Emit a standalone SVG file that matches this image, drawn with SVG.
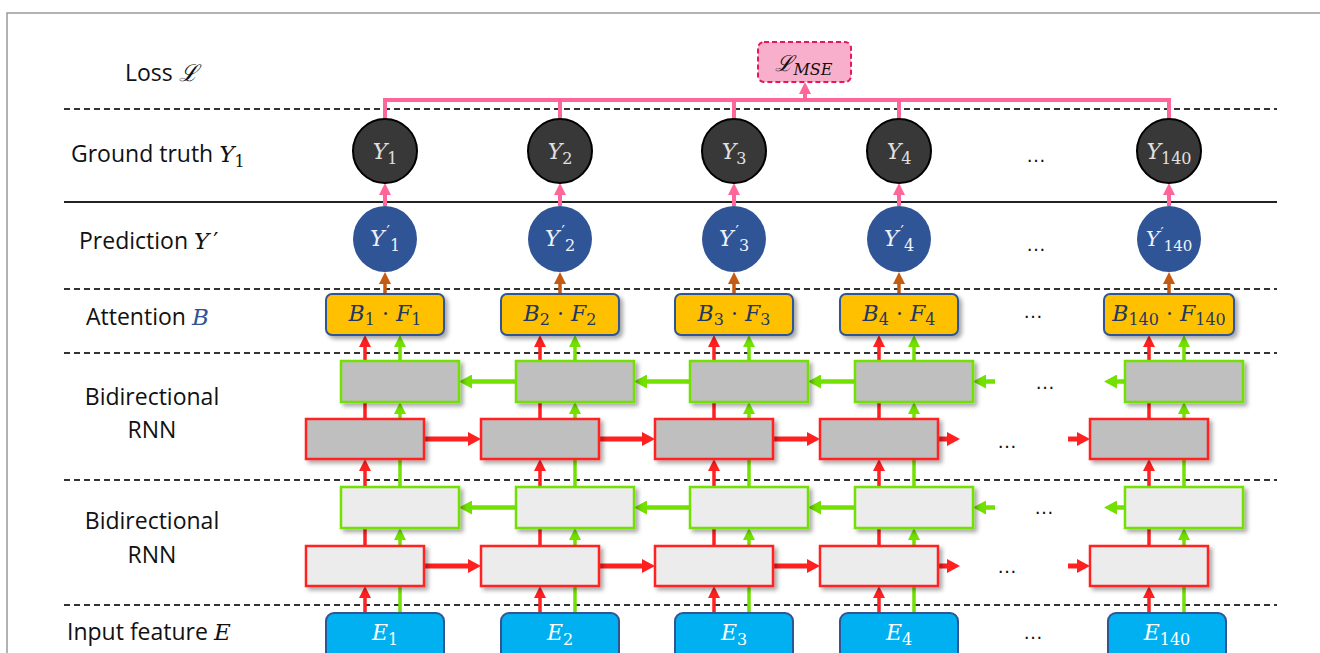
<svg xmlns="http://www.w3.org/2000/svg" width="1320" height="653" viewBox="0 0 1320 653">
<style>
.lbl{font-family:"Open Sans","Liberation Sans",Arial,sans-serif;font-size:23px;fill:#111}
.m{font-family:"DejaVu Serif","Liberation Serif",serif;font-style:italic}
.sub{font-family:"DejaVu Serif","Liberation Serif",serif;font-style:normal}
.pm{font-family:"DejaVu Sans","Liberation Sans",sans-serif;font-style:normal}
.dash{stroke:#333;stroke-width:2;stroke-dasharray:6 4;fill:none}
.gt{fill:#383838;stroke:#000;stroke-width:2}
.pr{fill:#2f5597}
.att{fill:#ffc000;stroke:#2f5597;stroke-width:2}
.inp{fill:#00b0f0;stroke:#2f5597;stroke-width:2}
.gd{fill:#bfbfbf;stroke:#72e000;stroke-width:2.5}
.rd{fill:#bfbfbf;stroke:#ff2020;stroke-width:2.5}
.gl{fill:#ececec;stroke:#72e000;stroke-width:2.5}
.rl{fill:#ececec;stroke:#ff2020;stroke-width:2.5}
.r{stroke:#ff2020;stroke-width:3.5;fill:none}
.g{stroke:#72e000;stroke-width:3.5;fill:none}
.rh{stroke:#ff2020;stroke-width:5;fill:none}
.gh{stroke:#72e000;stroke-width:4.5;fill:none}
.pk{stroke:#ff6699;stroke-width:4;fill:none}
.br{stroke:#c55a11;stroke-width:3.5;fill:none}
.dots{font-family:"Liberation Sans",Arial,sans-serif;font-size:20px;fill:#111;text-anchor:middle}
.ct{text-anchor:middle}
</style>
<defs>
<filter id="sh" x="-10%" y="-10%" width="130%" height="140%"><feDropShadow dx="3" dy="3" stdDeviation="2" flood-color="#000" flood-opacity="0.35"/></filter>
<marker id="mr" viewBox="0 0 12 12" refX="4" refY="6" markerWidth="12" markerHeight="12" markerUnits="userSpaceOnUse" orient="auto"><path d="M0,0 L12,6 L0,12 z" fill="#ff2020"/></marker>
<marker id="mg" viewBox="0 0 12 12" refX="4" refY="6" markerWidth="12" markerHeight="12" markerUnits="userSpaceOnUse" orient="auto"><path d="M0,0 L12,6 L0,12 z" fill="#72e000"/></marker>
<marker id="mrh" viewBox="0 0 13 14" refX="5" refY="7" markerWidth="13" markerHeight="14" markerUnits="userSpaceOnUse" orient="auto"><path d="M0,0 L13,7 L0,14 z" fill="#ff2020"/></marker>
<marker id="mgh" viewBox="0 0 13 14" refX="5" refY="7" markerWidth="13" markerHeight="14" markerUnits="userSpaceOnUse" orient="auto"><path d="M0,0 L13,7 L0,14 z" fill="#72e000"/></marker>
<marker id="mp" viewBox="0 0 12 12" refX="4" refY="6" markerWidth="12" markerHeight="12" markerUnits="userSpaceOnUse" orient="auto"><path d="M0,0 L12,6 L0,12 z" fill="#ff6699"/></marker>
<marker id="mb" viewBox="0 0 12 12" refX="4" refY="6" markerWidth="12" markerHeight="12" markerUnits="userSpaceOnUse" orient="auto"><path d="M0,0 L12,6 L0,12 z" fill="#c55a11"/></marker>
</defs>
<rect width="1320" height="653" fill="#fff"/>
<path d="M7,653 V13 H1320" fill="none" stroke="#999" stroke-width="1.5"/>

<g id="separators">
<line class="dash" x1="64" y1="109" x2="1277" y2="109"/>
<line x1="64" y1="202" x2="1277" y2="202" stroke="#222" stroke-width="1.8"/>
<line class="dash" x1="64" y1="289" x2="1277" y2="289"/>
<line class="dash" x1="64" y1="353" x2="1277" y2="353"/>
<line class="dash" x1="64" y1="480" x2="1277" y2="480"/>
<line class="dash" x1="64" y1="605" x2="1277" y2="605"/>
</g>

<g id="labels">
<text class="lbl" x="125" y="81">Loss <tspan class="m">ℒ</tspan></text>
<text class="lbl" x="71" y="162">Ground truth <tspan class="m">Y</tspan><tspan class="sub" font-size="16" dy="5">1</tspan></text>
<text class="lbl" x="79" y="249">Prediction <tspan class="m">Y</tspan><tspan class="pm" dx="4">′</tspan></text>
<text class="lbl" x="86" y="325">Attention <tspan class="m" fill="#2f5597">B</tspan></text>
<text class="lbl ct" x="152" y="405">Bidirectional</text>
<text class="lbl ct" x="152" y="438">RNN</text>
<text class="lbl ct" x="152" y="529">Bidirectional</text>
<text class="lbl ct" x="152" y="563">RNN</text>
<text class="lbl" x="67" y="640">Input feature <tspan class="m">E</tspan></text>
</g>

<g id="connectors">
<path class="pk" d="M385,119 V100 H1169 V119 M560,100 V119 M734,100 V119 M899,100 V119"/>
<path class="pk" d="M805,100 V90" marker-end="url(#mp)"/>
<path class="pk" d="M385,206 V191" marker-end="url(#mp)"/>
<path class="pk" d="M560,206 V191" marker-end="url(#mp)"/>
<path class="pk" d="M734,206 V191" marker-end="url(#mp)"/>
<path class="pk" d="M899,206 V191" marker-end="url(#mp)"/>
<path class="pk" d="M1169,206 V191" marker-end="url(#mp)"/>
<path class="br" d="M385,294 V280" marker-end="url(#mb)"/>
<path class="br" d="M560,294 V280" marker-end="url(#mb)"/>
<path class="br" d="M734,294 V280" marker-end="url(#mb)"/>
<path class="br" d="M899,294 V280" marker-end="url(#mb)"/>
<path class="br" d="M1169,294 V280" marker-end="url(#mb)"/>
<path class="r" d="M365,613 V594" marker-end="url(#mr)"/>
<path class="r" d="M365,546 V467" marker-end="url(#mr)"/>
<path class="r" d="M365,419 V343" marker-end="url(#mr)"/>
<path class="r" d="M540,613 V594" marker-end="url(#mr)"/>
<path class="r" d="M540,546 V467" marker-end="url(#mr)"/>
<path class="r" d="M540,419 V343" marker-end="url(#mr)"/>
<path class="r" d="M714,613 V594" marker-end="url(#mr)"/>
<path class="r" d="M714,546 V467" marker-end="url(#mr)"/>
<path class="r" d="M714,419 V343" marker-end="url(#mr)"/>
<path class="r" d="M879,613 V594" marker-end="url(#mr)"/>
<path class="r" d="M879,546 V467" marker-end="url(#mr)"/>
<path class="r" d="M879,419 V343" marker-end="url(#mr)"/>
<path class="r" d="M1149,613 V594" marker-end="url(#mr)"/>
<path class="r" d="M1149,546 V467" marker-end="url(#mr)"/>
<path class="r" d="M1149,419 V343" marker-end="url(#mr)"/>
<path class="g" d="M400,613 V536" marker-end="url(#mg)"/>
<path class="g" d="M400,487 V410" marker-end="url(#mg)"/>
<path class="g" d="M400,361 V343" marker-end="url(#mg)"/>
<path class="g" d="M575,613 V536" marker-end="url(#mg)"/>
<path class="g" d="M575,487 V410" marker-end="url(#mg)"/>
<path class="g" d="M575,361 V343" marker-end="url(#mg)"/>
<path class="g" d="M749,613 V536" marker-end="url(#mg)"/>
<path class="g" d="M749,487 V410" marker-end="url(#mg)"/>
<path class="g" d="M749,361 V343" marker-end="url(#mg)"/>
<path class="g" d="M914,613 V536" marker-end="url(#mg)"/>
<path class="g" d="M914,487 V410" marker-end="url(#mg)"/>
<path class="g" d="M914,361 V343" marker-end="url(#mg)"/>
<path class="g" d="M1184,613 V536" marker-end="url(#mg)"/>
<path class="g" d="M1184,487 V410" marker-end="url(#mg)"/>
<path class="g" d="M1184,361 V343" marker-end="url(#mg)"/>
<path class="gh" d="M516,381.5 H467" marker-end="url(#mgh)"/>
<path class="gh" d="M690,381.5 H642" marker-end="url(#mgh)"/>
<path class="gh" d="M855,381.5 H816" marker-end="url(#mgh)"/>
<path class="gh" d="M995,381.5 H981" marker-end="url(#mgh)"/>
<path class="gh" d="M1125,381.5 H1112" marker-end="url(#mgh)"/>
<path class="rh" d="M424,439 H473" marker-end="url(#mrh)"/>
<path class="rh" d="M599,439 H647" marker-end="url(#mrh)"/>
<path class="rh" d="M773,439 H812" marker-end="url(#mrh)"/>
<path class="rh" d="M938,439 H952" marker-end="url(#mrh)"/>
<path class="rh" d="M1068,439 H1082" marker-end="url(#mrh)"/>
<path class="gh" d="M516,507.5 H467" marker-end="url(#mgh)"/>
<path class="gh" d="M690,507.5 H642" marker-end="url(#mgh)"/>
<path class="gh" d="M855,507.5 H816" marker-end="url(#mgh)"/>
<path class="gh" d="M995,507.5 H981" marker-end="url(#mgh)"/>
<path class="gh" d="M1125,507.5 H1112" marker-end="url(#mgh)"/>
<path class="rh" d="M424,566 H473" marker-end="url(#mrh)"/>
<path class="rh" d="M599,566 H647" marker-end="url(#mrh)"/>
<path class="rh" d="M773,566 H812" marker-end="url(#mrh)"/>
<path class="rh" d="M938,566 H952" marker-end="url(#mrh)"/>
<path class="rh" d="M1068,566 H1082" marker-end="url(#mrh)"/>
</g>

<g id="loss">
<rect x="758" y="42" width="93" height="40" rx="6" fill="#f8afcb" stroke="#e8175d" stroke-width="2" stroke-dasharray="5 3"/>
<text x="804" y="71" class="ct" font-size="22" fill="#111"><tspan class="m">ℒ</tspan><tspan class="m" font-size="16" dy="4">MSE</tspan></text>
</g>

<g id="ground-truth" fill="#e0e0e0" font-size="22">
<g id="Y1"><ellipse class="gt" cx="385" cy="151" rx="32" ry="32"/><text x="385" y="159" class="ct"><tspan class="m">Y</tspan><tspan class="sub" font-size="16" dy="5">1</tspan></text></g>
<g id="Y2"><ellipse class="gt" cx="560" cy="151" rx="32" ry="32"/><text x="560" y="159" class="ct"><tspan class="m">Y</tspan><tspan class="sub" font-size="16" dy="5">2</tspan></text></g>
<g id="Y3"><ellipse class="gt" cx="734" cy="151" rx="32" ry="32"/><text x="734" y="159" class="ct"><tspan class="m">Y</tspan><tspan class="sub" font-size="16" dy="5">3</tspan></text></g>
<g id="Y4"><ellipse class="gt" cx="899" cy="151" rx="32" ry="32"/><text x="899" y="159" class="ct"><tspan class="m">Y</tspan><tspan class="sub" font-size="16" dy="5">4</tspan></text></g>
<text class="dots" x="1036" y="162">…</text>
<g id="Y140"><ellipse class="gt" cx="1169" cy="151" rx="32" ry="32"/><text x="1169" y="159" class="ct"><tspan class="m">Y</tspan><tspan class="sub" font-size="16" dy="5">140</tspan></text></g>
</g>

<g id="prediction" fill="#eef2fa" font-size="22">
<g id="P1"><ellipse class="pr" cx="385" cy="239" rx="32" ry="33"/><text x="385" y="246" class="ct"><tspan class="m">Y</tspan><tspan class="pm" font-size="15" dx="2" dy="-9">′</tspan><tspan class="sub" font-size="16" dy="14">1</tspan></text></g>
<g id="P2"><ellipse class="pr" cx="560" cy="239" rx="32" ry="33"/><text x="560" y="246" class="ct"><tspan class="m">Y</tspan><tspan class="pm" font-size="15" dx="2" dy="-9">′</tspan><tspan class="sub" font-size="16" dy="14">2</tspan></text></g>
<g id="P3"><ellipse class="pr" cx="734" cy="239" rx="32" ry="33"/><text x="734" y="246" class="ct"><tspan class="m">Y</tspan><tspan class="pm" font-size="15" dx="2" dy="-9">′</tspan><tspan class="sub" font-size="16" dy="14">3</tspan></text></g>
<g id="P4"><ellipse class="pr" cx="899" cy="239" rx="32" ry="33"/><text x="899" y="246" class="ct"><tspan class="m">Y</tspan><tspan class="pm" font-size="15" dx="2" dy="-9">′</tspan><tspan class="sub" font-size="16" dy="14">4</tspan></text></g>
<text class="dots" x="1036" y="251">…</text>
<g id="P140"><ellipse class="pr" cx="1169" cy="239" rx="32" ry="33"/><text x="1169" y="246" class="ct" font-size="21"><tspan class="m">Y</tspan><tspan class="pm" font-size="14" dx="1" dy="-9">′</tspan><tspan class="sub" font-size="15" dy="14">140</tspan></text></g>
</g>

<g id="attention" fill="#1f3864" font-size="22">
<g id="A1"><rect class="att" x="326" y="294" width="118" height="41" rx="6" filter="url(#sh)"/><text x="385" y="321" class="ct"><tspan class="m">B</tspan><tspan class="sub" font-size="16" dy="4">1</tspan><tspan class="sub" dy="-4"> · </tspan><tspan class="m">F</tspan><tspan class="sub" font-size="16" dy="4">1</tspan></text></g>
<g id="A2"><rect class="att" x="501" y="294" width="118" height="41" rx="6" filter="url(#sh)"/><text x="560" y="321" class="ct"><tspan class="m">B</tspan><tspan class="sub" font-size="16" dy="4">2</tspan><tspan class="sub" dy="-4"> · </tspan><tspan class="m">F</tspan><tspan class="sub" font-size="16" dy="4">2</tspan></text></g>
<g id="A3"><rect class="att" x="675" y="294" width="118" height="41" rx="6" filter="url(#sh)"/><text x="734" y="321" class="ct"><tspan class="m">B</tspan><tspan class="sub" font-size="16" dy="4">3</tspan><tspan class="sub" dy="-4"> · </tspan><tspan class="m">F</tspan><tspan class="sub" font-size="16" dy="4">3</tspan></text></g>
<g id="A4"><rect class="att" x="840" y="294" width="118" height="41" rx="6" filter="url(#sh)"/><text x="899" y="321" class="ct"><tspan class="m">B</tspan><tspan class="sub" font-size="16" dy="4">4</tspan><tspan class="sub" dy="-4"> · </tspan><tspan class="m">F</tspan><tspan class="sub" font-size="16" dy="4">4</tspan></text></g>
<text class="dots" x="1033" y="318">…</text>
<g id="A140"><rect class="att" x="1104" y="294" width="130" height="41" rx="6" filter="url(#sh)"/><text x="1169" y="321" class="ct"><tspan class="m">B</tspan><tspan class="sub" font-size="16" dy="4">140</tspan><tspan class="sub" dy="-4"> · </tspan><tspan class="m">F</tspan><tspan class="sub" font-size="16" dy="4">140</tspan></text></g>
</g>

<g id="rnn-layer2">
<g id="L2b1"><rect class="gd" x="341" y="361" width="118" height="41" filter="url(#sh)"/></g>
<g id="L2b2"><rect class="gd" x="516" y="361" width="118" height="41" filter="url(#sh)"/></g>
<g id="L2b3"><rect class="gd" x="690" y="361" width="118" height="41" filter="url(#sh)"/></g>
<g id="L2b4"><rect class="gd" x="855" y="361" width="118" height="41" filter="url(#sh)"/></g>
<g id="L2b140"><rect class="gd" x="1125" y="361" width="118" height="41" filter="url(#sh)"/></g>
<g id="L2f1"><rect class="rd" x="306" y="419" width="118" height="40" filter="url(#sh)"/></g>
<g id="L2f2"><rect class="rd" x="481" y="419" width="118" height="40" filter="url(#sh)"/></g>
<g id="L2f3"><rect class="rd" x="655" y="419" width="118" height="40" filter="url(#sh)"/></g>
<g id="L2f4"><rect class="rd" x="820" y="419" width="118" height="40" filter="url(#sh)"/></g>
<g id="L2f140"><rect class="rd" x="1090" y="419" width="118" height="40" filter="url(#sh)"/></g>
<text class="dots" x="1045" y="389">…</text>
<text class="dots" x="1007" y="448">…</text>
</g>

<g id="rnn-layer1">
<g id="L1b1"><rect class="gl" x="341" y="487" width="118" height="41" filter="url(#sh)"/></g>
<g id="L1b2"><rect class="gl" x="516" y="487" width="118" height="41" filter="url(#sh)"/></g>
<g id="L1b3"><rect class="gl" x="690" y="487" width="118" height="41" filter="url(#sh)"/></g>
<g id="L1b4"><rect class="gl" x="855" y="487" width="118" height="41" filter="url(#sh)"/></g>
<g id="L1b140"><rect class="gl" x="1125" y="487" width="118" height="41" filter="url(#sh)"/></g>
<g id="L1f1"><rect class="rl" x="306" y="546" width="118" height="40" filter="url(#sh)"/></g>
<g id="L1f2"><rect class="rl" x="481" y="546" width="118" height="40" filter="url(#sh)"/></g>
<g id="L1f3"><rect class="rl" x="655" y="546" width="118" height="40" filter="url(#sh)"/></g>
<g id="L1f4"><rect class="rl" x="820" y="546" width="118" height="40" filter="url(#sh)"/></g>
<g id="L1f140"><rect class="rl" x="1090" y="546" width="118" height="40" filter="url(#sh)"/></g>
<text class="dots" x="1044" y="514">…</text>
<text class="dots" x="1007" y="573">…</text>
</g>

<g id="input" fill="#fff" font-size="22">
<g id="E1"><rect class="inp" x="326" y="613" width="118" height="48" rx="8"/><text x="385" y="640" class="ct"><tspan class="m">E</tspan><tspan class="sub" font-size="16" dy="5">1</tspan></text></g>
<g id="E2"><rect class="inp" x="501" y="613" width="118" height="48" rx="8"/><text x="560" y="640" class="ct"><tspan class="m">E</tspan><tspan class="sub" font-size="16" dy="5">2</tspan></text></g>
<g id="E3"><rect class="inp" x="675" y="613" width="118" height="48" rx="8"/><text x="734" y="640" class="ct"><tspan class="m">E</tspan><tspan class="sub" font-size="16" dy="5">3</tspan></text></g>
<g id="E4"><rect class="inp" x="840" y="613" width="118" height="48" rx="8"/><text x="899" y="640" class="ct"><tspan class="m">E</tspan><tspan class="sub" font-size="16" dy="5">4</tspan></text></g>
<text class="dots" x="1033" y="639">…</text>
<g id="E140"><rect class="inp" x="1108" y="613" width="118" height="48" rx="8"/><text x="1167" y="640" class="ct"><tspan class="m">E</tspan><tspan class="sub" font-size="16" dy="5">140</tspan></text></g>
</g>
</svg>
